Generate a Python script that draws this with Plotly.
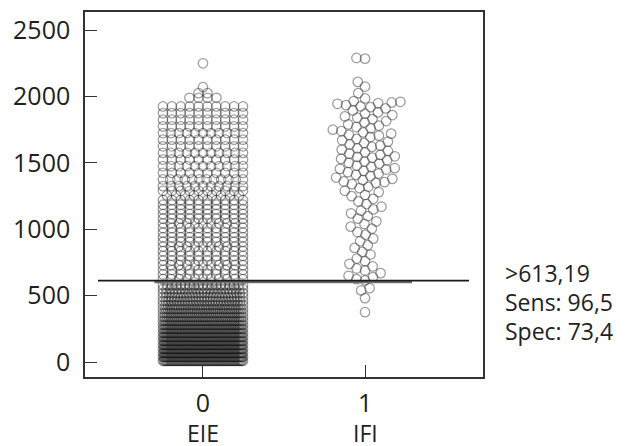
import math
import plotly.graph_objects as go

# ---------------- data ----------------
# EIE group: value levels (rows of the dot plot) and number of points at each level
eie_levels = [10, 40, 70, 100, 130, 160, 190, 220, 250, 280, 310, 340, 370, 400, 430, 460, 490, 520, 550, 580,
              625, 660, 695, 730, 765, 800, 835, 870, 905, 940, 975, 1010, 1045, 1080, 1115, 1150, 1185, 1220, 1255, 1290,
              1325, 1375, 1425, 1475, 1525, 1575, 1625, 1675, 1725, 1775, 1825, 1875, 1925,
              1990, 2025, 2070, 2250]
eie_counts = [78, 76, 70, 68, 65, 63, 60, 56, 52, 48, 45, 42, 39, 36, 33, 30, 28, 26, 23, 19,
              11, 10, 10, 11, 10, 10, 10, 11, 10, 10, 10, 10, 11, 10, 10, 10, 10, 10, 9, 10,
              11, 12, 10, 11, 10, 11, 10, 10, 11, 10, 10, 10, 10,
              4, 2, 1, 1]

# IFI group: individual values
ifi_values = [2290, 2285, 2110, 2075, 2025, 1985, 1965,
              1960, 1955, 1950, 1945, 1935, 1925, 1920, 1910,
              1895, 1880, 1870, 1860, 1850,
              1840, 1830, 1815, 1805,
              1790, 1780, 1770, 1760, 1750, 1740, 1730, 1720, 1710, 1705,
              1695, 1680, 1670, 1660, 1650, 1640, 1630, 1620, 1610, 1600,
              1590, 1580, 1570, 1560, 1550, 1545, 1540, 1530, 1520, 1510, 1500,
              1495, 1480, 1470, 1460, 1455, 1450, 1440, 1430, 1420, 1410, 1400,
              1390, 1380, 1370, 1360, 1355, 1350, 1340, 1320, 1310,
              1290, 1280, 1260, 1250, 1230, 1210,
              1190, 1170, 1150, 1140, 1120, 1100,
              1080, 1060, 1040, 1020, 1005,
              980, 960, 930, 910,
              880, 860, 830, 810,
              780, 760, 740, 720, 705,
              690, 670, 650, 640, 625, 615,
              557, 540, 482, 376]

categories = [0, 1]
category_names = ["EIE", "IFI"]
cutoff = 613.19
cutoff_lines = [">613,19", "Sens: 96,5", "Spec: 73,4"]

# ---------------- layout helpers (pixel geometry) ----------------
W, H = 633, 446
ML, MR, MT, MB = 85, 150, 12, 69
XR = [-0.728, 1.728]
YR = [-112, 2636]
px_x = (W - ML - MR) / (XR[1] - XR[0])
px_y = (H - MT - MB) / (YR[1] - YR[0])

# EIE: row layout, capped width (points squeezed when too many)
eie_x, eie_y = [], []
for r, (lvl, n) in enumerate(zip(eie_levels, eie_counts)):
    w = min((n - 1) * 9.0, 80.0)
    for i in range(n):
        off = 0.0 if n == 1 else -w / 2 + w * i / (n - 1)
        eie_x.append(categories[0] + off / px_x)
        eie_y.append(lvl)

# IFI: simple beeswarm in pixel space
d = 8.6
placed = []
ifi_x, ifi_y = [], []
for v in sorted(ifi_values):
    yp = v * px_y
    cands = [0.0]
    for (qx, qy) in placed:
        dy = yp - qy
        if abs(dy) < d:
            dx = math.sqrt(d * d - dy * dy)
            cands += [qx + dx, qx - dx]
    cands.sort(key=lambda c: (abs(c), c))
    for c in cands:
        if all((c - qx) ** 2 + (yp - qy) ** 2 >= d * d - 1e-6 for qx, qy in placed):
            placed.append((c, yp))
            ifi_x.append(categories[1] + c / px_x)
            ifi_y.append(v)
            break

marker = dict(symbol="circle", size=9.5, color="rgba(255,255,255,0.06)",
              line=dict(color="rgba(20,20,20,0.42)", width=1.25))

fig = go.Figure()
fig.add_trace(go.Scatter(x=eie_x, y=eie_y, mode="markers", marker=marker,
                         showlegend=False, hoverinfo="skip"))
fig.add_trace(go.Scatter(x=ifi_x, y=ifi_y, mode="markers", marker=marker,
                         showlegend=False, hoverinfo="skip"))

# cutoff line
fig.add_shape(type="line", x0=-0.30, x1=1.29, y0=cutoff - 8, y1=cutoff - 8,
              line=dict(color="#6e6e6e", width=3))
fig.add_shape(type="line", x0=-0.648, x1=1.642, y0=cutoff, y1=cutoff,
              line=dict(color="#1a1a1a", width=1.8))

FONT = "Open Sans"
TXT = "#231f20"

ann = []
for i, t in enumerate(cutoff_lines):
    ann.append(dict(x=(503 - ML) / (W - ML - MR), y=[(377 - 273), (377 - 302), (377 - 331)][i] / (H - MT - MB),
                    xref="paper", yref="paper", text=t, showarrow=False,
                    xanchor="left", yanchor="middle",
                    font=dict(family=FONT, size=23, color=TXT)))
for c, name in zip(categories, category_names):
    ann.append(dict(x=c, y=(377 - 433) / (H - MT - MB), xref="x", yref="paper",
                    text=name, showarrow=False, xanchor="center", yanchor="middle",
                    font=dict(family=FONT, size=23, color=TXT)))

fig.update_layout(
    width=W, height=H,
    margin=dict(l=ML, r=MR, t=MT, b=MB, autoexpand=False),
    paper_bgcolor="white", plot_bgcolor="white",
    annotations=ann,
    xaxis=dict(range=XR, tickvals=categories, ticktext=[str(c) for c in categories],
               ticks="inside", ticklen=12, tickwidth=1.3, tickcolor="#333",
               showline=True, linecolor="#333", linewidth=1.5, mirror=True,
               showgrid=False, zeroline=False, ticklabelstandoff=3,
               tickfont=dict(family=FONT, size=25, color=TXT)),
    yaxis=dict(range=YR, tickvals=[0, 500, 1000, 1500, 2000, 2500],
               ticks="inside", ticklen=12, tickwidth=1.3, tickcolor="#333",
               showline=True, linecolor="#333", linewidth=1.5, mirror=True,
               showgrid=False, zeroline=False, ticklabelstandoff=8,
               tickfont=dict(family=FONT, size=25, color=TXT)),
)

fig.write_html("out.html", config={"displayModeBar": False},
               post_script="document.body.style.margin='0px';document.body.style.padding='0px';")
